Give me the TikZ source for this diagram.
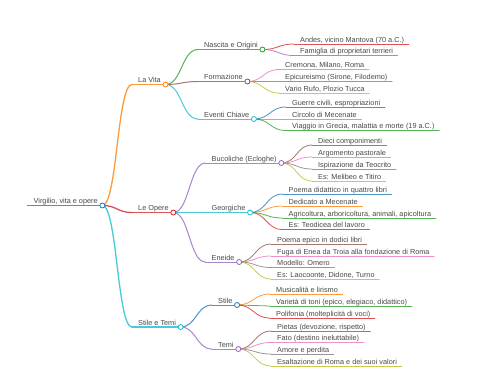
\documentclass[tikz,border=0pt]{standalone}
\usepackage{fontspec}
\setmainfont{Liberation Sans}
\usetikzlibrary{calc}
\definecolor{cblue}{HTML}{1F77B4}
\definecolor{corange}{HTML}{FF7F0E}
\definecolor{cgreen}{HTML}{2CA02C}
\definecolor{cred}{HTML}{D62728}
\definecolor{cpurple}{HTML}{9467BD}
\definecolor{cbrown}{HTML}{8C564B}
\definecolor{cpink}{HTML}{E377C2}
\definecolor{cgray}{HTML}{7F7F7F}
\definecolor{colive}{HTML}{BCBD22}
\definecolor{ccyan}{HTML}{17BECF}
\tikzset{
  lbl/.style={inner sep=0pt, anchor=base west, font=\fontsize{7.3}{8}\selectfont, text=black!72},
  dot/.style={circle, fill=white, inner sep=0pt, minimum size=5pt, line width=0.8pt},
  edge/.style={draw opacity=0.8},
}
% #1 name, #2 start x, #3 line y, #4 text, #5 colour, #6 line width
\newcommand{\mmnode}[6]{%
  \coordinate (#1s) at (#2,#3);
  \node[lbl] (#1) at ($(#1s)+(6,-2)$) {#4};
  \coordinate (#1e) at ($(#1.east |- #1s)+(4.5,0)$);
  \draw[edge, #5, line width=#6, line cap=round] (#1s) -- (#1e);
}
% #1 parent, #2 child, #3 colour, #4 width
\newcommand{\mmlink}[4]{%
  \coordinate (#2m) at ($(#1e)!0.5!(#2s)$);
  \draw[edge, #3, line width=#4] (#1e) .. controls (#2m |- #1e) and (#2m |- #2s) .. (#2s);
}
\newcommand{\mmdot}[2]{\node[dot, draw=#2] (#1c) at (#1e) {};}
\begin{document}
\begin{tikzpicture}[x=1pt,y=-1pt]
\useasboundingbox (0,0) rectangle (480,384);
% root and level 1
\mmnode{root}{27.5}{205.5}{Virgilio, vita e opere}{cblue}{1.8}
\mmnode{vita}{132}{84.5}{La Vita}{corange}{1.3}
\mmnode{opere}{132}{212.5}{Le Opere}{cred}{1.3}
\mmnode{stem}{132}{327}{Stile e Temi}{ccyan}{1.3}
% level 2
\mmnode{nasc}{198}{49.5}{Nascita e Origini}{cgreen}{1}
\mmnode{form}{198}{81.5}{Formazione}{cbrown}{1}
\mmnode{even}{198}{119}{Eventi Chiave}{ccyan}{1}
\mmnode{buco}{205.5}{163}{Bucoliche (Ecloghe)}{cpurple}{1}
\mmnode{geor}{205.5}{212.5}{Georgiche}{ccyan}{1}
\mmnode{enei}{205.5}{262}{Eneide}{cpurple}{1}
\mmnode{stil}{212}{305}{Stile}{cblue}{1}
\mmnode{temi}{212}{349}{Temi}{cpurple}{1}
% leaves
\mmnode{l1}{294}{44}{Andes, vicino Mantova (70 a.C.)}{cred}{0.8}
\mmnode{l2}{294}{55.5}{Famiglia di proprietari terrieri}{cpurple}{0.8}
\mmnode{l3}{279}{69.5}{Cremona, Milano, Roma}{cpink}{0.8}
\mmnode{l4}{279}{81.5}{Epicureismo (Sirone, Filodemo)}{cgray}{0.8}
\mmnode{l5}{279}{93}{Vario Rufo, Plozio Tucca}{colive}{0.8}
\mmnode{l6}{286}{107}{Guerre civili, espropriazioni}{cblue}{0.8}
\mmnode{l7}{286}{119}{Circolo di Mecenate}{corange}{0.8}
\mmnode{l8}{286}{130.5}{Viaggio in Grecia, malattia e morte (19 a.C.)}{cgreen}{0.8}
\mmnode{l9}{312}{145}{Dieci componimenti}{cbrown}{0.8}
\mmnode{l10}{312}{157}{Argomento pastorale}{cpink}{0.8}
\mmnode{l11}{312}{169}{Ispirazione da Teocrito}{cgray}{0.8}
\mmnode{l12}{312}{181}{Es: Melibeo e Titiro}{colive}{0.8}
\mmnode{l13}{282.5}{194}{Poema didattico in quattro libri}{cblue}{0.8}
\mmnode{l14}{282.5}{206}{Dedicato a Mecenate}{corange}{0.8}
\mmnode{l15}{282.5}{218}{Agricoltura, arboricoltura, animali, apicoltura}{cgreen}{0.8}
\mmnode{l16}{282.5}{229.5}{Es: Teodicea del lavoro}{cred}{0.8}
\mmnode{l17}{271}{244}{Poema epico in dodici libri}{cbrown}{0.8}
\mmnode{l18}{271}{256}{Fuga di Enea da Troia alla fondazione di Roma}{cpink}{0.8}
\mmnode{l19}{271}{267.5}{Modello: Omero}{cgray}{0.8}
\mmnode{l20}{271}{279}{Es: Laocoonte, Didone, Turno}{colive}{0.8}
\mmnode{l21}{270}{294}{Musicalità e lirismo}{corange}{0.8}
\mmnode{l22}{270}{306}{Varietà di toni (epico, elegiaco, didattico)}{cgreen}{0.8}
\mmnode{l23}{270}{318}{Polifonia (molteplicità di voci)}{cred}{0.8}
\mmnode{l24}{271}{331}{Pietas (devozione, rispetto)}{cbrown}{0.8}
\mmnode{l25}{271}{342.5}{Fato (destino ineluttabile)}{cpink}{0.8}
\mmnode{l26}{271}{354}{Amore e perdita}{cgray}{0.8}
\mmnode{l27}{271}{366}{Esaltazione di Roma e dei suoi valori}{colive}{0.8}
% links
\mmlink{root}{vita}{corange}{1.3}
\mmlink{root}{opere}{cred}{1.3}
\mmlink{root}{stem}{ccyan}{1.3}
\mmlink{vita}{nasc}{cgreen}{1}
\mmlink{vita}{form}{cbrown}{1}
\mmlink{vita}{even}{ccyan}{1}
\mmlink{opere}{buco}{cpurple}{1}
\mmlink{opere}{geor}{ccyan}{1}
\mmlink{opere}{enei}{cpurple}{1}
\mmlink{stem}{stil}{cblue}{1}
\mmlink{stem}{temi}{cpurple}{1}
\mmlink{nasc}{l1}{cred}{0.8}
\mmlink{nasc}{l2}{cpurple}{0.8}
\mmlink{form}{l3}{cpink}{0.8}
\mmlink{form}{l4}{cgray}{0.8}
\mmlink{form}{l5}{colive}{0.8}
\mmlink{even}{l6}{cblue}{0.8}
\mmlink{even}{l7}{corange}{0.8}
\mmlink{even}{l8}{cgreen}{0.8}
\mmlink{buco}{l9}{cbrown}{0.8}
\mmlink{buco}{l10}{cpink}{0.8}
\mmlink{buco}{l11}{cgray}{0.8}
\mmlink{buco}{l12}{colive}{0.8}
\mmlink{geor}{l13}{cblue}{0.8}
\mmlink{geor}{l14}{corange}{0.8}
\mmlink{geor}{l15}{cgreen}{0.8}
\mmlink{geor}{l16}{cred}{0.8}
\mmlink{enei}{l17}{cbrown}{0.8}
\mmlink{enei}{l18}{cpink}{0.8}
\mmlink{enei}{l19}{cgray}{0.8}
\mmlink{enei}{l20}{colive}{0.8}
\mmlink{stil}{l21}{corange}{0.8}
\mmlink{stil}{l22}{cgreen}{0.8}
\mmlink{stil}{l23}{cred}{0.8}
\mmlink{temi}{l24}{cbrown}{0.8}
\mmlink{temi}{l25}{cpink}{0.8}
\mmlink{temi}{l26}{cgray}{0.8}
\mmlink{temi}{l27}{colive}{0.8}
% circles
\mmdot{root}{cblue}
\mmdot{vita}{corange}
\mmdot{opere}{cred}
\mmdot{stem}{ccyan}
\mmdot{nasc}{cgreen}
\mmdot{form}{cbrown}
\mmdot{even}{ccyan}
\mmdot{buco}{cpurple}
\mmdot{geor}{ccyan}
\mmdot{enei}{cpurple}
\mmdot{stil}{cblue}
\mmdot{temi}{cpurple}
\end{tikzpicture}
\end{document}
